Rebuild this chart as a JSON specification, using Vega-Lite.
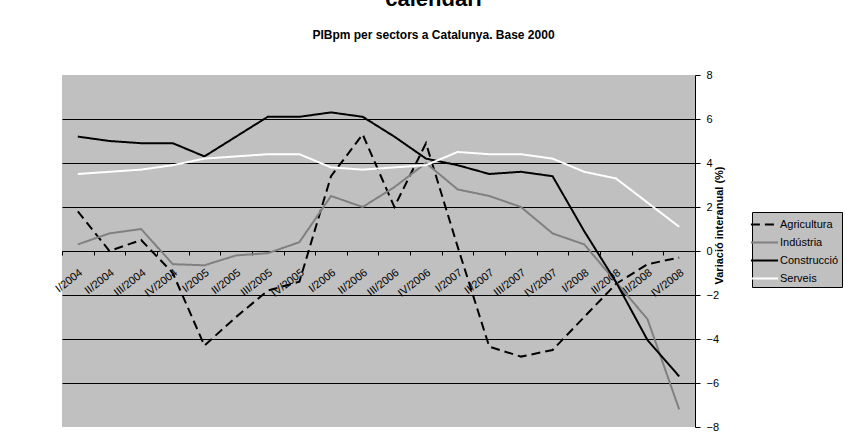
{
  "$schema": "https://vega.github.io/schema/vega-lite/v6.json",
  "width": 633,
  "height": 352,
  "autosize": "none",
  "padding": {"left": 62, "top": 75, "right": 150, "bottom": 14},
  "background": "white",
  "title": {
    "text": "calendari",
    "subtitle": "PIBpm per sectors a Catalunya. Base 2000",
    "anchor": "middle",
    "dx": 55,
    "offset": 27,
    "font": "Liberation Sans",
    "fontSize": 22,
    "fontWeight": "bold",
    "color": "black",
    "subtitleFont": "Liberation Sans",
    "subtitleFontSize": 12,
    "subtitleFontWeight": "bold",
    "subtitleColor": "black",
    "subtitlePadding": 19
  },
  "config": {
    "view": {"fill": "#C0C0C0", "stroke": null},
    "font": "Liberation Sans"
  },
  "data": {
    "values": [
      {"q": "I/2004", "s": "Agricultura", "v": 1.8},
      {"q": "II/2004", "s": "Agricultura", "v": 0.0},
      {"q": "III/2004", "s": "Agricultura", "v": 0.5},
      {"q": "IV/2004", "s": "Agricultura", "v": -1.0},
      {"q": "I/2005", "s": "Agricultura", "v": -4.3},
      {"q": "II/2005", "s": "Agricultura", "v": -3.0},
      {"q": "III/2005", "s": "Agricultura", "v": -1.8},
      {"q": "IV/2005", "s": "Agricultura", "v": -1.4},
      {"q": "I/2006", "s": "Agricultura", "v": 3.4},
      {"q": "II/2006", "s": "Agricultura", "v": 5.3},
      {"q": "III/2006", "s": "Agricultura", "v": 2.0},
      {"q": "IV/2006", "s": "Agricultura", "v": 4.9},
      {"q": "I/2007", "s": "Agricultura", "v": 0.2},
      {"q": "II/2007", "s": "Agricultura", "v": -4.35},
      {"q": "III/2007", "s": "Agricultura", "v": -4.8},
      {"q": "IV/2007", "s": "Agricultura", "v": -4.5},
      {"q": "I/2008", "s": "Agricultura", "v": -3.0},
      {"q": "II/2008", "s": "Agricultura", "v": -1.5},
      {"q": "III/2008", "s": "Agricultura", "v": -0.6},
      {"q": "IV/2008", "s": "Agricultura", "v": -0.3},
      {"q": "I/2004", "s": "Indústria", "v": 0.3},
      {"q": "II/2004", "s": "Indústria", "v": 0.8},
      {"q": "III/2004", "s": "Indústria", "v": 1.0},
      {"q": "IV/2004", "s": "Indústria", "v": -0.6},
      {"q": "I/2005", "s": "Indústria", "v": -0.65},
      {"q": "II/2005", "s": "Indústria", "v": -0.2},
      {"q": "III/2005", "s": "Indústria", "v": -0.1},
      {"q": "IV/2005", "s": "Indústria", "v": 0.4},
      {"q": "I/2006", "s": "Indústria", "v": 2.5},
      {"q": "II/2006", "s": "Indústria", "v": 2.0},
      {"q": "III/2006", "s": "Indústria", "v": 2.9},
      {"q": "IV/2006", "s": "Indústria", "v": 4.0},
      {"q": "I/2007", "s": "Indústria", "v": 2.8},
      {"q": "II/2007", "s": "Indústria", "v": 2.5},
      {"q": "III/2007", "s": "Indústria", "v": 2.0},
      {"q": "IV/2007", "s": "Indústria", "v": 0.8},
      {"q": "I/2008", "s": "Indústria", "v": 0.3},
      {"q": "II/2008", "s": "Indústria", "v": -1.4},
      {"q": "III/2008", "s": "Indústria", "v": -3.1},
      {"q": "IV/2008", "s": "Indústria", "v": -7.2},
      {"q": "I/2004", "s": "Construcció", "v": 5.2},
      {"q": "II/2004", "s": "Construcció", "v": 5.0},
      {"q": "III/2004", "s": "Construcció", "v": 4.9},
      {"q": "IV/2004", "s": "Construcció", "v": 4.9},
      {"q": "I/2005", "s": "Construcció", "v": 4.3},
      {"q": "II/2005", "s": "Construcció", "v": 5.2},
      {"q": "III/2005", "s": "Construcció", "v": 6.1},
      {"q": "IV/2005", "s": "Construcció", "v": 6.1},
      {"q": "I/2006", "s": "Construcció", "v": 6.3},
      {"q": "II/2006", "s": "Construcció", "v": 6.1},
      {"q": "III/2006", "s": "Construcció", "v": 5.2},
      {"q": "IV/2006", "s": "Construcció", "v": 4.2},
      {"q": "I/2007", "s": "Construcció", "v": 3.9},
      {"q": "II/2007", "s": "Construcció", "v": 3.5},
      {"q": "III/2007", "s": "Construcció", "v": 3.6},
      {"q": "IV/2007", "s": "Construcció", "v": 3.4},
      {"q": "I/2008", "s": "Construcció", "v": 0.9},
      {"q": "II/2008", "s": "Construcció", "v": -1.4},
      {"q": "III/2008", "s": "Construcció", "v": -4.05},
      {"q": "IV/2008", "s": "Construcció", "v": -5.7},
      {"q": "I/2004", "s": "Serveis", "v": 3.5},
      {"q": "II/2004", "s": "Serveis", "v": 3.6},
      {"q": "III/2004", "s": "Serveis", "v": 3.7},
      {"q": "IV/2004", "s": "Serveis", "v": 3.9},
      {"q": "I/2005", "s": "Serveis", "v": 4.2},
      {"q": "II/2005", "s": "Serveis", "v": 4.3},
      {"q": "III/2005", "s": "Serveis", "v": 4.4},
      {"q": "IV/2005", "s": "Serveis", "v": 4.4},
      {"q": "I/2006", "s": "Serveis", "v": 3.8},
      {"q": "II/2006", "s": "Serveis", "v": 3.7},
      {"q": "III/2006", "s": "Serveis", "v": 3.8},
      {"q": "IV/2006", "s": "Serveis", "v": 3.9},
      {"q": "I/2007", "s": "Serveis", "v": 4.5},
      {"q": "II/2007", "s": "Serveis", "v": 4.4},
      {"q": "III/2007", "s": "Serveis", "v": 4.4},
      {"q": "IV/2007", "s": "Serveis", "v": 4.2},
      {"q": "I/2008", "s": "Serveis", "v": 3.6},
      {"q": "II/2008", "s": "Serveis", "v": 3.3},
      {"q": "III/2008", "s": "Serveis", "v": 2.2},
      {"q": "IV/2008", "s": "Serveis", "v": 1.1}
    ]
  },
  "mark": {"type": "line", "strokeWidth": 2},
  "encoding": {
    "x": {
      "field": "q",
      "type": "nominal",
      "sort": null,
      "scale": {"type": "band", "paddingInner": 0, "paddingOuter": 0},
      "axis": {
        "title": null,
        "offset": -176,
        "grid": false,
        "tickBand": "extent",
        "tickSize": 4,
        "tickColor": "black",
        "domainColor": "black",
        "labelAngle": -38,
        "labelAlign": "right",
        "labelBaseline": "middle",
        "labelPadding": 16,
        "labelOffset": 3,
        "labelFont": "Liberation Sans",
        "labelFontSize": 11,
        "labelColor": "black"
      }
    },
    "y": {
      "field": "v",
      "type": "quantitative",
      "scale": {"domain": [-8, 8], "nice": false, "zero": false},
      "axis": {
        "orient": "right",
        "values": [-8, -6, -4, -2, 0, 2, 4, 6, 8],
        "grid": true,
        "gridColor": {"condition": {"test": "abs(datum.value) == 8", "value": "transparent"}, "value": "black"},
        "gridWidth": 1,
        "domainColor": "black",
        "tickColor": "black",
        "tickSize": 5,
        "labelPadding": 6,
        "labelFont": "Liberation Sans",
        "labelFontSize": 11,
        "labelColor": "black",
        "title": "Variació interanual (%)",
        "titleFont": "Liberation Sans",
        "titleFontSize": 11,
        "titleFontWeight": "bold",
        "titleColor": "black",
        "titleAngle": 270,
        "titlePadding": 6,
        "titleY": 150
      }
    },
    "color": {
      "field": "s",
      "type": "nominal",
      "scale": {"domain": ["Agricultura", "Indústria", "Construcció", "Serveis"], "range": ["black", "#808080", "black", "white"]},
      "legend": {
        "title": null,
        "orient": "none",
        "legendX": 690,
        "legendY": 137,
        "fillColor": "#C0C0C0",
        "strokeColor": "black",
        "padding": 3,
        "rowPadding": 3,
        "symbolType": "M-1.6,0H1.6",
        "symbolSize": 289,
        "symbolStrokeWidth": 2,
        "labelOffset": 6,
        "labelFont": "Liberation Sans",
        "labelFontSize": 11,
        "labelColor": "black"
      }
    },
    "strokeDash": {
      "field": "s",
      "type": "nominal",
      "scale": {"domain": ["Agricultura", "Indústria", "Construcció", "Serveis"], "range": [[9, 5], [1, 0], [1, 0], [1, 0]]}
    }
  }
}
